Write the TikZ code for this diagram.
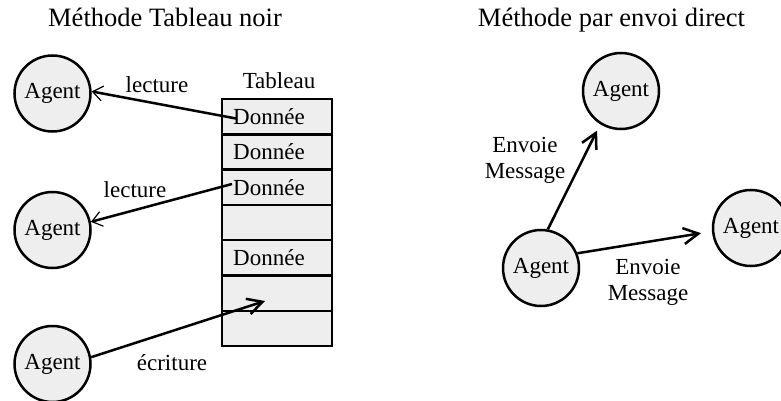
\documentclass[tikz,border=0pt]{standalone}
\usepackage{fontspec}
\setmainfont{Liberation Serif}
\usetikzlibrary{arrows.meta}
\definecolor{cellgray}{HTML}{EEEEEE}
\tikzset{
  agent/.style={circle, draw=black, line width=2.5pt, fill=cellgray, minimum size=76pt, inner sep=0pt, font=\fontsize{23}{26}\selectfont},
  cell/.style={rectangle, draw=black, line width=2.5pt, fill=cellgray, minimum width=110pt, minimum height=35.3pt, inner sep=0pt},
  lbl/.style={font=\fontsize{23}{26}\selectfont, inner sep=0pt},
  ttl/.style={font=\fontsize{26.5}{30}\selectfont, inner sep=0pt, anchor=base},
  dtxt/.style={font=\fontsize{23}{26}\selectfont, inner sep=0pt, anchor=west},
  rd/.style={line width=2.5pt, -{Straight Barb[length=10pt, width=15pt, line width=1.2pt]}},
  wr/.style={line width=2.5pt, -{Straight Barb[length=15pt, width=16pt]}}
}
\begin{document}
\begin{tikzpicture}[x=1pt, y=-1pt]
\useasboundingbox (0,0) rectangle (781,401);
% titles
\node[ttl] (t1) at (165,27) {Méthode Tableau noir};
\node[ttl] (t2) at (611.5,27) {Méthode par envoi direct};
% table
\foreach \i in {0,...,6} {
  \node[cell] (c\i) at (277, {99+17.65+35.3*\i}) {};
}
\node[lbl, anchor=base] (tab) at (279,89) {Tableau};
\node[dtxt] (d1) at (233, 116.65) {Donnée};
\node[dtxt] (d2) at (233, 151.95) {Donnée};
\node[dtxt] (d3) at (233, 187.25) {Donnée};
\node[dtxt] (d5) at (233, 257.85) {Donnée};
% agents left
\node[agent] (a1) at (52.5,93.5) {Agent};
\node[agent] (a2) at (52.5,230) {Agent};
\node[agent] (a3) at (52.5,364) {Agent};
% left labels
\node[lbl, anchor=base] (l1) at (157,93) {lecture};
\node[lbl, anchor=base] (l2) at (135,197) {lecture};
\node[lbl, anchor=base] (l3) at (172,370) {écriture};
% left arrows
\coordinate (s1) at (236,118.5);
\coordinate (s2) at (232,184);
\coordinate (w) at (265,301);
\draw[rd] (s1) -- (a1.3);
\draw[rd] (s2) -- (a2.12);
\draw[wr] (a3.10) -- (w);
% right agents
\node[agent] (b1) at (621,91) {Agent};
\node[agent] (b2) at (541,268) {Agent};
\node[agent] (b3) at (751,228) {Agent};
\node[lbl, align=center] (m1) at (525,160) {Envoie\\Message};
\node[lbl, align=center] (m2) at (648,282) {Envoie\\Message};
\draw[wr, shorten >=7pt] (b2.80) -- (b1.238);
\draw[wr, shorten >=11pt] (b2.22) -- (b3.185);
\end{tikzpicture}
\end{document}
